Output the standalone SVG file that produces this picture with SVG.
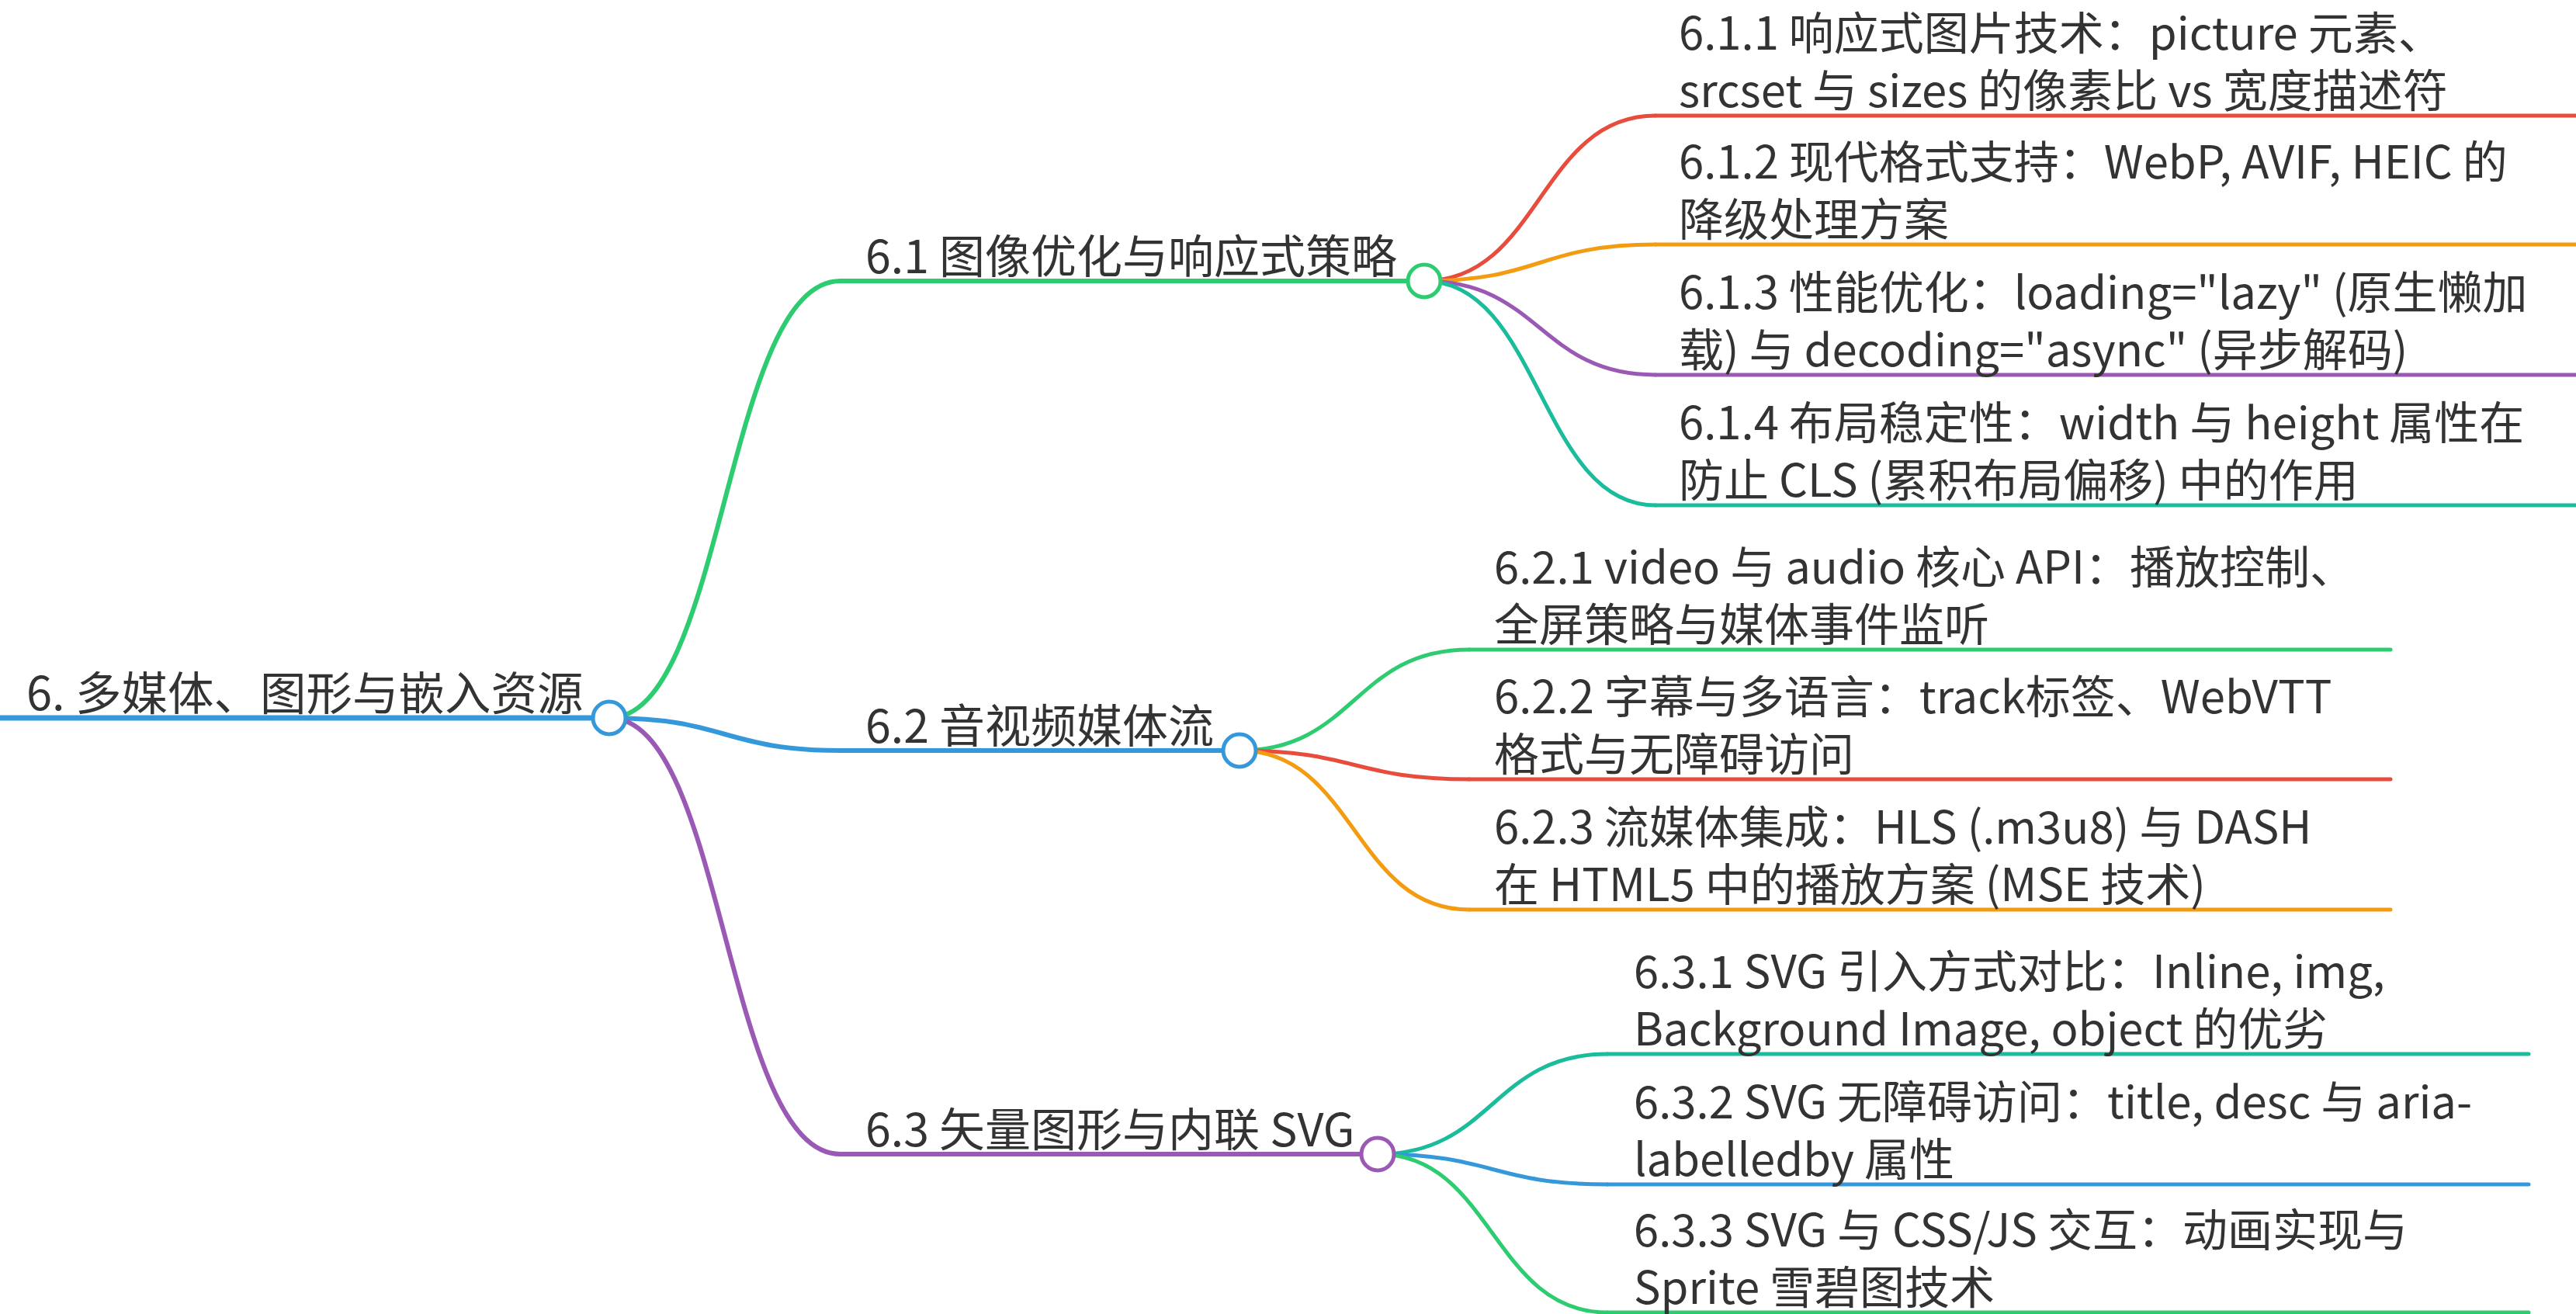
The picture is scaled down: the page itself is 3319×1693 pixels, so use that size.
<svg xmlns="http://www.w3.org/2000/svg" width="3319" height="1693" viewBox="0 0 3319 1693">
<style>
text{font-family:"Noto Sans CJK SC","Noto Sans",sans-serif;font-size:58px;fill:#333}
.root{font-size:59.5px}
.mid{font-size:59px}
.l{fill:none;stroke-linecap:round}
.d0{stroke-width:7}
.d1{stroke-width:6}
.d2{stroke-width:5}
.c{fill:#fff;stroke-width:5}
.blue{stroke:#3498db}.green{stroke:#2ecc71}.red{stroke:#e74c3c}.orange{stroke:#f39c12}.purple{stroke:#9b59b6}.teal{stroke:#1abc9c}
</style>
<rect width="3319" height="1693" fill="#fff"/>
<g id="connectors">
<path class="l d1 green" d="M785,925 C934,925 934,362 1083,362"/>
<path class="l d1 blue" d="M785,925 C934,925 934,967 1083,967"/>
<path class="l d1 purple" d="M785,925 C934,925 934,1487 1083,1487"/>
<path class="l d2 red" d="M1835,362 C1984,362 1984,149 2133,149"/>
<path class="l d2 orange" d="M1835,362 C1984,362 1984,315 2133,315"/>
<path class="l d2 purple" d="M1835,362 C1984,362 1984,483 2133,483"/>
<path class="l d2 teal" d="M1835,362 C1984,362 1984,651 2133,651"/>
<path class="l d2 green" d="M1597,967 C1745,967 1745,837 1893,837"/>
<path class="l d2 red" d="M1597,967 C1745,967 1745,1004 1893,1004"/>
<path class="l d2 orange" d="M1597,967 C1745,967 1745,1172 1893,1172"/>
<path class="l d2 teal" d="M1775,1487 C1923,1487 1923,1358 2071,1358"/>
<path class="l d2 blue" d="M1775,1487 C1923,1487 1923,1526 2071,1526"/>
<path class="l d2 green" d="M1775,1487 C1923,1487 1923,1691 2071,1691"/>
</g>
<g id="n6_1_1"><line class="l d2 red" x1="2133" y1="149" x2="3330" y2="149"/><text x="2163" y="64">6.1.1 响应式图片技术：picture 元素、</text><text x="2163" y="138">srcset 与 sizes 的像素比 vs 宽度描述符</text></g>
<g id="n6_1_2"><line class="l d2 orange" x1="2133" y1="315" x2="3330" y2="315"/><text x="2163" y="230">6.1.2 现代格式支持：WebP, AVIF, HEIC 的</text><text x="2163" y="304">降级处理方案</text></g>
<g id="n6_1_3"><line class="l d2 purple" x1="2133" y1="483" x2="3330" y2="483"/><text x="2163" y="398">6.1.3 性能优化：loading="lazy" (原生懒加</text><text x="2163" y="472">载) 与 decoding="async" (异步解码)</text></g>
<g id="n6_1_4"><line class="l d2 teal" x1="2133" y1="651" x2="3330" y2="651"/><text x="2163" y="566">6.1.4 布局稳定性：width 与 height 属性在</text><text x="2163" y="640">防止 CLS (累积布局偏移) 中的作用</text></g>
<g id="n6_2_1"><line class="l d2 green" x1="1893" y1="837" x2="3080" y2="837"/><text x="1925" y="752">6.2.1 video 与 audio 核心 API：播放控制、</text><text x="1925" y="826">全屏策略与媒体事件监听</text></g>
<g id="n6_2_2"><line class="l d2 red" x1="1893" y1="1004" x2="3080" y2="1004"/><text x="1925" y="919">6.2.2 字幕与多语言：track标签、WebVTT</text><text x="1925" y="993">格式与无障碍访问</text></g>
<g id="n6_2_3"><line class="l d2 orange" x1="1893" y1="1172" x2="3080" y2="1172"/><text x="1925" y="1087">6.2.3 流媒体集成：HLS (.m3u8) 与 DASH</text><text x="1925" y="1161">在 HTML5 中的播放方案 (MSE 技术)</text></g>
<g id="n6_3_1"><line class="l d2 teal" x1="2071" y1="1358" x2="3258" y2="1358"/><text x="2105" y="1273">6.3.1 SVG 引入方式对比：Inline, img,</text><text x="2105" y="1347">Background Image, object 的优劣</text></g>
<g id="n6_3_2"><line class="l d2 blue" x1="2071" y1="1526" x2="3258" y2="1526"/><text x="2105" y="1441">6.3.2 SVG 无障碍访问：title, desc 与 aria-</text><text x="2105" y="1515">labelledby 属性</text></g>
<g id="n6_3_3"><line class="l d2 green" x1="2071" y1="1691" x2="3258" y2="1691"/><text x="2105" y="1606">6.3.3 SVG 与 CSS/JS 交互：动画实现与</text><text x="2105" y="1680">Sprite 雪碧图技术</text></g>
<g id="n6_1"><line class="l d1 green" x1="1083" y1="362" x2="1835" y2="362"/><text class="mid" x="1115" y="352">6.1 图像优化与响应式策略</text><circle class="c green" cx="1835" cy="362" r="21"/></g>
<g id="n6_2"><line class="l d1 blue" x1="1083" y1="967" x2="1597" y2="967"/><text class="mid" x="1115" y="957">6.2 音视频媒体流</text><circle class="c blue" cx="1597" cy="967" r="21"/></g>
<g id="n6_3"><line class="l d1 purple" x1="1083" y1="1487" x2="1775" y2="1487"/><text class="mid" x="1115" y="1477">6.3 矢量图形与内联 SVG</text><circle class="c purple" cx="1775" cy="1487" r="21"/></g>
<g id="n6"><line class="l d0 blue" x1="-10" y1="925" x2="785" y2="925"/><text class="root" x="34" y="915">6. 多媒体、图形与嵌入资源</text><circle class="c blue" cx="785" cy="925" r="21"/></g>
</svg>
